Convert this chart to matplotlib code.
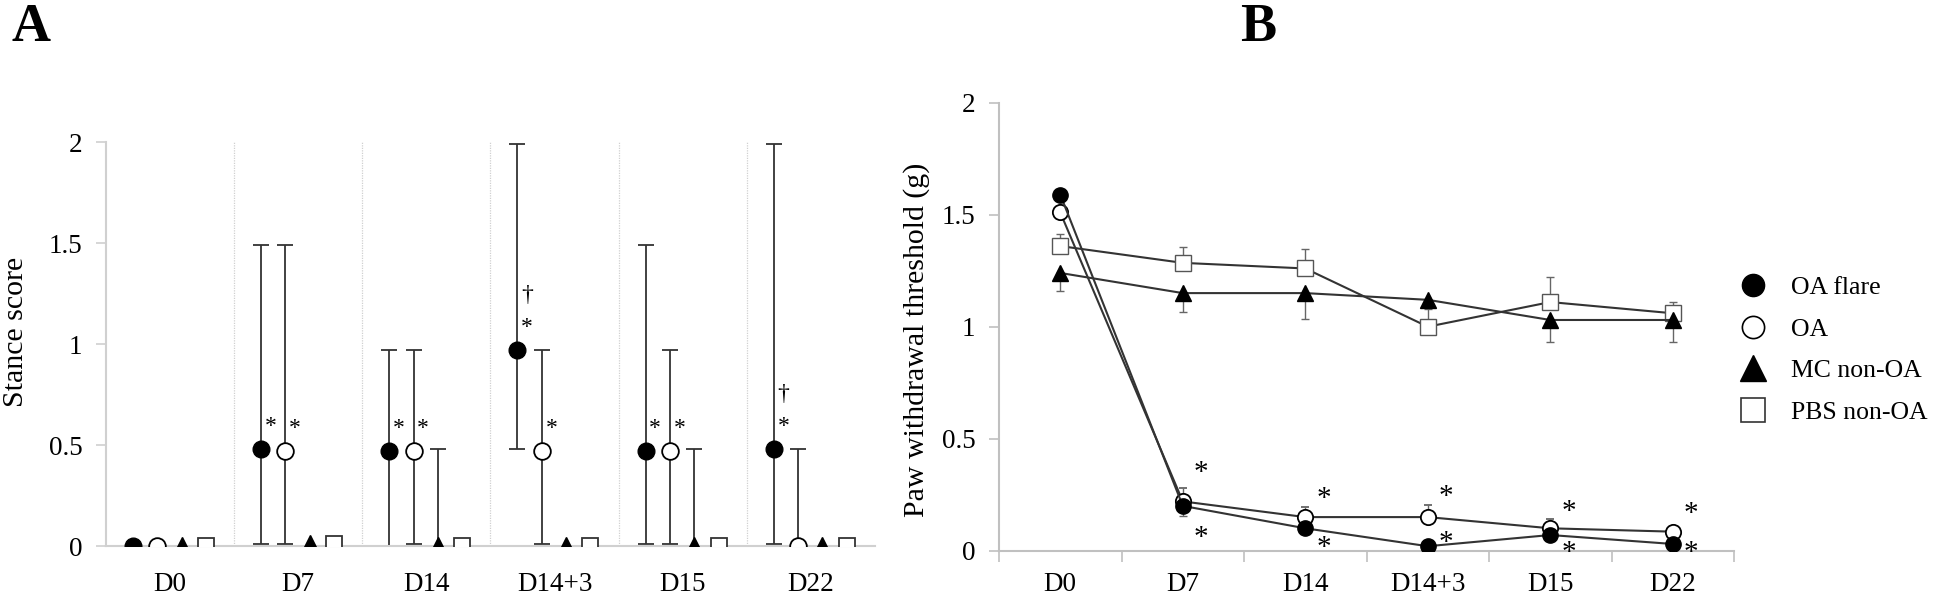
import matplotlib
matplotlib.use('Agg')
import matplotlib.pyplot as plt
from matplotlib.lines import Line2D
import numpy as np

plt.rcParams['font.family'] = 'serif'
plt.rcParams['font.serif'] = ['Liberation Serif', 'DejaVu Serif']

groups = ['D0', 'D7', 'D14', 'D14+3', 'D15', 'D22']
labels = ['OA flare', 'OA', 'MC non-OA', 'PBS non-OA']

# panel A: stance score (point with range)
a_flare = [0, 0.48, 0.47, 0.97, 0.47, 0.48]
a_flare_lo = [0, 0.01, 0.0, 0.48, 0.01, 0.01]
a_flare_hi = [0, 1.49, 0.97, 1.99, 1.49, 1.99]
a_oa = [0, 0.47, 0.47, 0.47, 0.47, 0]
a_oa_lo = [0, 0.01, 0.01, 0.01, 0.01, 0]
a_oa_hi = [0, 1.49, 0.97, 0.97, 0.97, 0.48]
a_mc = [0, 0.01, 0, 0, 0, 0]
a_mc_hi = [0, 0.01, 0.48, 0, 0.48, 0]
a_pbs = [0, 0.01, 0, 0, 0, 0]
a_flare_star = [False, True, True, True, True, True]
a_flare_dagger = [False, False, False, True, False, True]
a_oa_star = [False, True, True, True, True, False]

# panel B: paw withdrawal threshold (mean, one-sided error)
b_flare = [1.59, 0.20, 0.10, 0.02, 0.07, 0.03]
b_flare_err = [0.0, 0.045, 0.02, 0.01, 0.02, 0.01]
b_oa = [1.51, 0.22, 0.15, 0.15, 0.10, 0.085]
b_oa_err = [0.02, 0.06, 0.045, 0.055, 0.04, 0.02]
b_mc = [1.24, 1.15, 1.15, 1.12, 1.03, 1.03]
b_mc_err = [0.08, 0.085, 0.115, 0.04, 0.10, 0.10]
b_pbs = [1.36, 1.285, 1.26, 1.00, 1.11, 1.06]
b_pbs_err = [0.055, 0.07, 0.085, 0.09, 0.11, 0.05]
b_star_hi = [None, 0.384, 0.267, 0.275, 0.208, 0.202]
b_star_lo = [None, 0.094, 0.05, 0.07, 0.027, 0.027]

dark = '#333333'
grid = '#d0d0d0'
tick_fs = 19.5
lab_fs = 21.5

fig = plt.figure(figsize=(19.44, 6.01), dpi=100)
axA = fig.add_axes([0.0545, 0.0915, 0.3956, 0.6722])
axB = fig.add_axes([0.5139, 0.0837, 0.3781, 0.7454])

# ---- panel A
x = np.arange(len(groups)) + 0.5
offs = [-0.29, -0.10, 0.09, 0.28]
ebkw = dict(fmt='none', ecolor=dark, elinewidth=1.3, capsize=6, capthick=1.3, zorder=2)

for i in range(len(groups)):
    if a_flare_hi[i] > a_flare_lo[i]:
        axA.errorbar(x[i] + offs[0], a_flare[i],
                     yerr=[[a_flare[i] - a_flare_lo[i]], [a_flare_hi[i] - a_flare[i]]], **ebkw)
    if a_oa_hi[i] > a_oa_lo[i]:
        axA.errorbar(x[i] + offs[1], a_oa[i],
                     yerr=[[a_oa[i] - a_oa_lo[i]], [a_oa_hi[i] - a_oa[i]]], **ebkw)
    if a_mc_hi[i] > a_mc[i]:
        axA.errorbar(x[i] + offs[2], a_mc[i], yerr=[[0], [a_mc_hi[i] - a_mc[i]]], **ebkw)

axA.plot(x + offs[0], a_flare, 'o', ms=12, color='black', zorder=3)
axA.plot(x + offs[1], a_oa, 'o', ms=12, mfc='white', mec='black', mew=1.3, zorder=3)
axA.plot(x + offs[2], a_mc, '^', ms=13, color='black', zorder=3)
axA.plot(x + offs[3], a_pbs, 's', ms=12, mfc='white', mec=dark, mew=1.3, zorder=3)

for i in range(len(groups)):
    if a_flare_star[i]:
        axA.text(x[i] + offs[0] + 0.075, a_flare[i] + 0.11, '*', ha='center', va='center', fontsize=17)
    if a_flare_dagger[i]:
        axA.text(x[i] + offs[0] + 0.075, a_flare[i] + 0.27, '†', ha='center', va='center', fontsize=17)
    if a_oa_star[i]:
        axA.text(x[i] + offs[1] + 0.075, a_oa[i] + 0.11, '*', ha='center', va='center', fontsize=17)

for b in range(1, len(groups)):
    axA.axvline(b, color=grid, lw=0.9, ls=(0, (1, 1)), zorder=1)

axA.set_xlim(0, len(groups))
axA.set_ylim(0, 2)
axA.set_yticks([0, 0.5, 1, 1.5, 2])
axA.set_yticklabels(['0', '0.5', '1', '1.5', '2'])
axA.set_xticks(x)
axA.set_xticklabels(groups)
axA.tick_params(axis='x', length=0, pad=19, labelsize=tick_fs)
axA.tick_params(axis='y', length=7, width=1.2, color=grid, pad=10, labelsize=tick_fs)
for s in ['top', 'right']:
    axA.spines[s].set_visible(False)
for s in ['left', 'bottom']:
    axA.spines[s].set_color(grid)
    axA.spines[s].set_linewidth(1.5)
axA.set_ylabel('Stance score', fontsize=lab_fs)
axA.yaxis.set_label_coords(-0.10, 0.53)

# ---- panel B
ebB = dict(ecolor='#666666', elinewidth=1.0, capsize=3, capthick=1.0)
lnB = dict(color=dark, lw=1.5, zorder=3)
z = np.zeros(len(groups))
axB.errorbar(x, b_pbs, yerr=[z, b_pbs_err], marker='s', ms=11, mfc='white', mec='#555555', mew=1.0, **lnB, **ebB)
axB.errorbar(x, b_mc, yerr=[b_mc_err, z], marker='^', ms=11, mfc='black', mec='black', **lnB, **ebB)
axB.errorbar(x, b_oa, yerr=[z, b_oa_err], marker='o', ms=11, mfc='white', mec='black', mew=1.3, **lnB, **ebB)
axB.errorbar(x, b_flare, yerr=[b_flare_err, z], marker='o', ms=11, mfc='black', mec='black', **lnB, **ebB)

for i in range(len(groups)):
    if b_star_hi[i] is not None:
        for yy in (b_star_hi[i], b_star_lo[i]):
            axB.annotate('*', (x[i] + 0.15, yy), xytext=(0, -6), textcoords='offset points',
                         ha='center', va='center', fontsize=21)

axB.set_xlim(0, len(groups))
axB.set_ylim(0, 2)
axB.set_yticks([0, 0.5, 1, 1.5, 2])
axB.set_yticklabels(['0', '0.5', '1', '1.5', '2'])
axB.set_xticks(np.arange(len(groups) + 1))
axB.set_xticklabels([])
axB.set_xticks(x, minor=True)
axB.set_xticklabels(groups, minor=True)
axB.tick_params(axis='x', which='major', length=8, width=1.2, color='#c0c0c0')
axB.tick_params(axis='x', which='minor', length=0, pad=15, labelsize=tick_fs)
axB.tick_params(axis='y', length=7, width=1.2, color='#c0c0c0', pad=10, labelsize=tick_fs)
for s in ['top', 'right']:
    axB.spines[s].set_visible(False)
for s in ['left', 'bottom']:
    axB.spines[s].set_color('#c0c0c0')
    axB.spines[s].set_linewidth(1.5)
axB.set_ylabel('Paw withdrawal threshold (g)', fontsize=lab_fs)
axB.yaxis.set_label_coords(-0.094, 0.47)

handles = [Line2D([], [], ls='none', marker='o', ms=16, mfc='black', mec='black'),
           Line2D([], [], ls='none', marker='o', ms=16, mfc='white', mec='black', mew=1.2),
           Line2D([], [], ls='none', marker='^', ms=19, mfc='black', mec='black'),
           Line2D([], [], ls='none', marker='s', ms=17, mfc='white', mec=dark, mew=1.2)]
fig.legend(handles, labels, loc='upper left', bbox_to_anchor=(0.895, 0.54), frameon=False,
           fontsize=18.5, handlelength=1.0, handletextpad=1.0, labelspacing=0.72,
           borderpad=0, borderaxespad=0)

fig.text(0.006, 0.995, 'A', fontsize=39, fontweight='bold', va='top', ha='left')
fig.text(0.638, 0.995, 'B', fontsize=39, fontweight='bold', va='top', ha='left')

fig.savefig('out.png', dpi=100)
